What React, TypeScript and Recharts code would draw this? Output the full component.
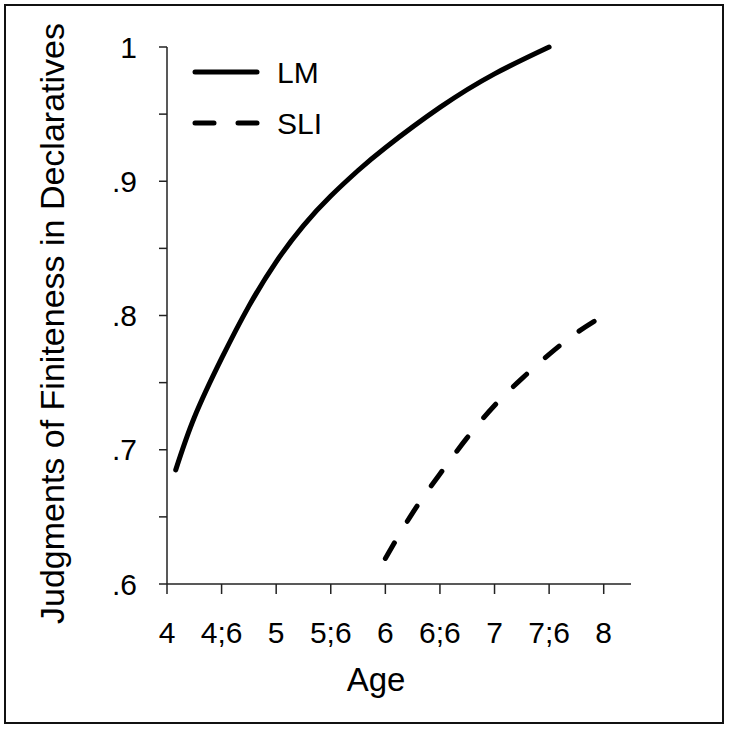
import React from 'react';
import { LineChart, Line, XAxis, YAxis, Customized } from 'recharts';

const LM_AGES = [4.08, 4.25, 4.5, 4.75, 5, 5.25, 5.5, 5.75, 6, 6.5, 7, 7.5];
const LM_VALUES = [0.685, 0.724, 0.768, 0.807, 0.84, 0.867, 0.889, 0.908, 0.925, 0.955, 0.98, 1.0];
const SLI_AGES = [6, 6.25, 6.5, 6.75, 7, 7.25, 7.5, 7.75, 8];
const SLI_VALUES = [0.619, 0.653, 0.682, 0.709, 0.733, 0.753, 0.771, 0.787, 0.8];
const X_TICKS = [4, 4.5, 5, 5.5, 6, 6.5, 7, 7.5, 8];
const X_TICK_LABELS = ['4', '4;6', '5', '5;6', '6', '6;6', '7', '7;6', '8'];
const Y_TICKS = [0.6, 0.65, 0.7, 0.75, 0.8, 0.85, 0.9, 0.95, 1.0];
const Y_TICK_LABELS = ['.6', '', '.7', '', '.8', '', '.9', '', '1'];
const SERIES_NAMES = ['LM', 'SLI'];
const X_TITLE = 'Age';
const Y_TITLE = 'Judgments of Finiteness in Declaratives';

const lmData = LM_AGES.map((a, i) => ({ age: a, v: LM_VALUES[i] }));
const sliData = SLI_AGES.map((a, i) => ({ age: a, v: SLI_VALUES[i] }));

const FONT = '"Liberation Sans", Arial, Helvetica, sans-serif';

const XTick = (props: any) => {
  const { x, y, payload } = props;
  const idx = X_TICKS.indexOf(payload.value);
  return (
    <text x={x} y={y + 47} textAnchor="middle" fontFamily={FONT} fontSize={30} fill="#000">
      {X_TICK_LABELS[idx]}
    </text>
  );
};

const YTick = (props: any) => {
  const { x, y, payload } = props;
  const idx = Y_TICKS.findIndex((t) => Math.abs(t - payload.value) < 1e-6);
  const label = Y_TICK_LABELS[idx] || '';
  if (!label) return null;
  return (
    <text x={x - 20} y={y + 10.5} textAnchor="end" fontFamily={FONT} fontSize={30} fill="#000">
      {label}
    </text>
  );
};

const LegendAndTitles = (props: any) => {
  const off = props.offset || {};
  const left = off.left ?? 167;
  const top = off.top ?? 47;
  const height = off.height ?? 537;
  const lx = left + 28;
  const yc = top + height / 2 + 8;
  return (
    <g>
      <line x1={lx} y1={top + 25} x2={lx + 62} y2={top + 25} stroke="#000" strokeWidth={5} strokeLinecap="round" />
      <text x={lx + 82} y={top + 36} fontFamily={FONT} fontSize={30} fill="#000">{SERIES_NAMES[0]}</text>
      <line x1={lx} y1={top + 76} x2={lx + 62} y2={top + 76} stroke="#000" strokeWidth={5} strokeLinecap="round" strokeDasharray="19 24" />
      <text x={lx + 82} y={top + 87} fontFamily={FONT} fontSize={30} fill="#000">{SERIES_NAMES[1]}</text>
      <text x={left + 209} y={top + height + 107} textAnchor="middle" fontFamily={FONT} fontSize={33} fill="#000">{X_TITLE}</text>
      <text
        x={64}
        y={yc}
        transform={`rotate(-90 64 ${yc})`}
        textAnchor="middle"
        fontFamily={FONT}
        fontSize={34}
        fill="#000"
      >
        {Y_TITLE}
      </text>
    </g>
  );
};

export default function App() {
  return (
    <div style={{ position: 'fixed', left: 0, top: 0, width: 729, height: 729, background: '#fff' }}>
      <div
        style={{
          position: 'absolute',
          left: 4,
          top: 4,
          width: 716,
          height: 716,
          border: '2px solid #111',
        }}
      />
      <div style={{ position: 'absolute', left: 0, top: 0 }}>
        <LineChart width={729} height={729} margin={{ top: 47, right: 98, bottom: 0, left: 0 }}>
          <XAxis
            type="number"
            dataKey="age"
            domain={[4, 8.25]}
            ticks={X_TICKS}
            height={145}
            tickSize={10}
            tick={<XTick />}
            axisLine={{ stroke: '#222', strokeWidth: 1.5 }}
            tickLine={{ stroke: '#222', strokeWidth: 1.5 }}
          />
          <YAxis
            type="number"
            dataKey="v"
            domain={[0.6, 1.0]}
            ticks={Y_TICKS}
            width={167}
            tickSize={8}
            tick={<YTick />}
            axisLine={{ stroke: '#222', strokeWidth: 1.5 }}
            tickLine={{ stroke: '#222', strokeWidth: 1.5 }}
          />
          <Line
            data={lmData}
            dataKey="v"
            type="natural"
            stroke="#000"
            strokeWidth={5}
            strokeLinecap="round"
            dot={false}
            activeDot={false}
            isAnimationActive={false}
          />
          <Line
            data={sliData}
            dataKey="v"
            type="natural"
            stroke="#000"
            strokeWidth={5}
            strokeLinecap="round"
            strokeDasharray="18 25"
            dot={false}
            activeDot={false}
            isAnimationActive={false}
          />
          <Customized component={LegendAndTitles} />
        </LineChart>
      </div>
    </div>
  );
}
